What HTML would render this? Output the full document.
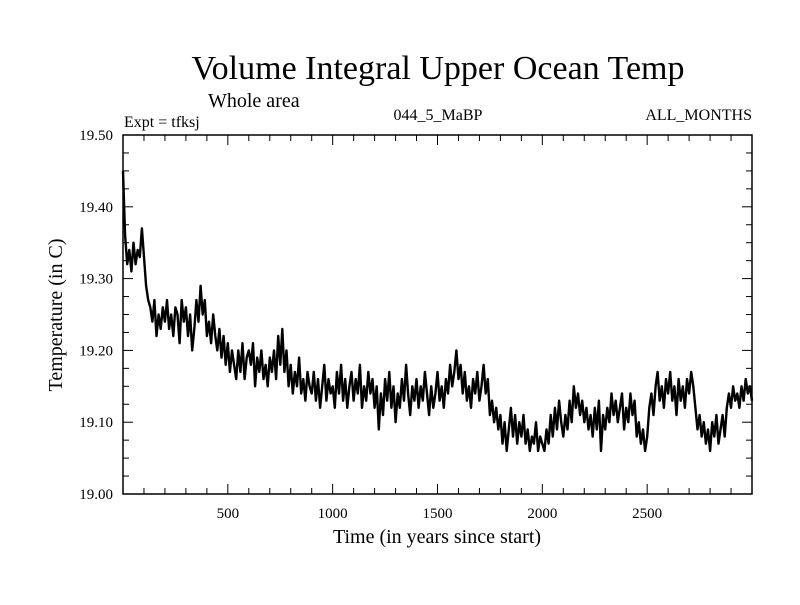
<!DOCTYPE html>
<html><head><meta charset="utf-8"><style>
body{margin:0;background:#fff;}
svg text{font-family:"Liberation Serif",serif;fill:#000;}
</style></head><body>
<svg id="chart" width="800" height="600" xmlns="http://www.w3.org/2000/svg">
<text x="438" y="79" font-size="34" text-anchor="middle">Volume Integral Upper Ocean Temp</text>
<text x="208" y="107" font-size="20">Whole area</text>
<text x="124" y="127" font-size="16">Expt = tfksj</text>
<text x="438" y="120" font-size="16" text-anchor="middle">044_5_MaBP</text>
<text x="752" y="120" font-size="16" text-anchor="end">ALL_MONTHS</text>
<text x="437" y="543" font-size="20" text-anchor="middle">Time (in years since start)</text>
<text transform="translate(62,315) rotate(-90)" font-size="20" text-anchor="middle">Temperature (in C)</text>
<g id="axes"></g>
<path id="series" fill="none" stroke="#000" stroke-width="2.4" stroke-linejoin="round"/>
<rect x="123" y="135" width="629" height="359" fill="none" stroke="#000" stroke-width="1.5"/>
</svg>
<script>
const startYear = 0;
const stepYears = 10;
const temps = [
19.45,19.36,19.32,19.34,19.31,19.35,19.32,19.34,19.33,19.37,
19.33,19.29,19.27,19.26,19.24,19.27,19.22,19.25,19.23,19.26,
19.24,19.27,19.23,19.25,19.22,19.26,19.25,19.21,19.27,19.24,
19.26,19.22,19.25,19.20,19.23,19.27,19.24,19.29,19.25,19.27,
19.22,19.24,19.21,19.25,19.22,19.20,19.23,19.19,19.22,19.18,
19.21,19.17,19.20,19.18,19.16,19.20,19.17,19.21,19.16,19.19,
19.20,19.18,19.21,19.15,19.19,19.17,19.20,19.16,19.18,19.15,
19.19,19.17,19.20,19.16,19.22,19.18,19.23,19.17,19.20,19.15,
19.18,19.14,19.17,19.15,19.19,19.14,19.16,19.13,19.17,19.15,
19.14,19.17,19.13,19.16,19.12,19.15,19.18,19.13,19.16,19.14,
19.15,19.12,19.17,19.14,19.18,19.13,19.16,19.12,19.15,19.17,
19.13,19.16,19.14,19.18,19.12,19.15,19.13,19.17,19.14,19.16,
19.12,19.15,19.09,19.14,19.11,19.16,19.13,19.17,19.12,19.15,
19.10,19.14,19.12,19.16,19.13,19.18,19.14,19.11,19.15,19.13,
19.16,19.12,19.15,19.13,19.17,19.14,19.11,19.15,19.12,19.14,
19.17,19.13,19.15,19.12,19.16,19.14,19.18,19.15,19.17,19.20,
19.16,19.18,19.14,19.17,19.13,19.15,19.12,19.16,19.14,19.17,
19.13,19.15,19.18,19.14,19.16,19.11,19.13,19.10,19.12,19.09,
19.11,19.07,19.10,19.06,19.09,19.12,19.08,19.11,19.07,19.10,
19.08,19.11,19.07,19.09,19.06,19.08,19.07,19.10,19.06,19.08,
19.07,19.06,19.09,19.07,19.11,19.08,19.12,19.09,19.13,19.10,
19.08,19.11,19.09,19.13,19.10,19.15,19.12,19.14,19.11,19.13,
19.10,19.12,19.09,19.11,19.08,19.12,19.09,19.13,19.06,19.11,
19.09,19.12,19.10,19.14,19.11,19.13,19.10,19.12,19.14,19.09,
19.12,19.10,19.14,19.11,19.13,19.08,19.10,19.07,19.09,19.06,
19.08,19.12,19.14,19.11,19.15,19.17,19.13,19.15,19.12,19.16,
19.14,19.17,19.13,19.15,19.11,19.16,19.13,19.15,19.12,19.16,
19.14,19.17,19.15,19.12,19.09,19.11,19.08,19.10,19.07,19.09,
19.06,19.10,19.08,19.11,19.07,19.09,19.11,19.08,19.12,19.14,
19.12,19.15,19.13,19.14,19.12,19.15,19.13,19.16,19.14,19.15,
19.13];
const xTickLabels = ["500","1000","1500","2000","2500"];
const yTickLabels = ["19.00","19.10","19.20","19.30","19.40","19.50"];

const X0=123,X1=752,Y0=494,Y1=135,XMIN=0,XMAX=3000,YMIN=19.0,YMAX=19.5;
const sx=v=>X0+(v-XMIN)/(XMAX-XMIN)*(X1-X0);
const sy=v=>Y0-(v-YMIN)/(YMAX-YMIN)*(Y0-Y1);
const NS="http://www.w3.org/2000/svg";
const axes=document.getElementById('axes');
function line(x1,y1,x2,y2,name){
  const l=document.createElementNS(NS,'line');
  l.setAttribute('x1',x1);l.setAttribute('y1',y1);l.setAttribute('x2',x2);l.setAttribute('y2',y2);
  l.setAttribute('stroke','#000');l.setAttribute('stroke-width','1');
  
  
  axes.appendChild(l);
}
function text(x,y,s,anchor,name){
  const t=document.createElementNS(NS,'text');
  t.setAttribute('x',x);t.setAttribute('y',y);t.setAttribute('font-size','15');t.setAttribute('text-anchor',anchor);
  t.textContent=s;
  
  
  axes.appendChild(t);
}
for(let v=100;v<XMAX;v+=100){
  const x=sx(v),len=(v%500===0)?10:6;
  line(x,Y0,x,Y0-len,'x-tick');
  line(x,Y1,x,Y1+len,'x-tick-top');
}
xTickLabels.forEach(s=>text(sx(+s),Y0+24,s,'middle','x-tick-label'));
for(let i=0;i<=20;i++){
  const v=YMIN+i*0.025,y=sy(v),len=(i%4===0)?10:6;
  line(X0,y,X0+len,y,'y-tick');
  line(X1,y,X1-len,y,'y-tick-right');
}
yTickLabels.forEach(s=>text(X0-10,sy(+s)+5,s,'end','y-tick-label'));
let d='';
temps.forEach((v,i)=>{d+=(i?'L':'M')+sx(startYear+i*stepYears).toFixed(1)+' '+sy(v).toFixed(1);});
document.getElementById('series').setAttribute('d',d);
</script>
</body></html>
